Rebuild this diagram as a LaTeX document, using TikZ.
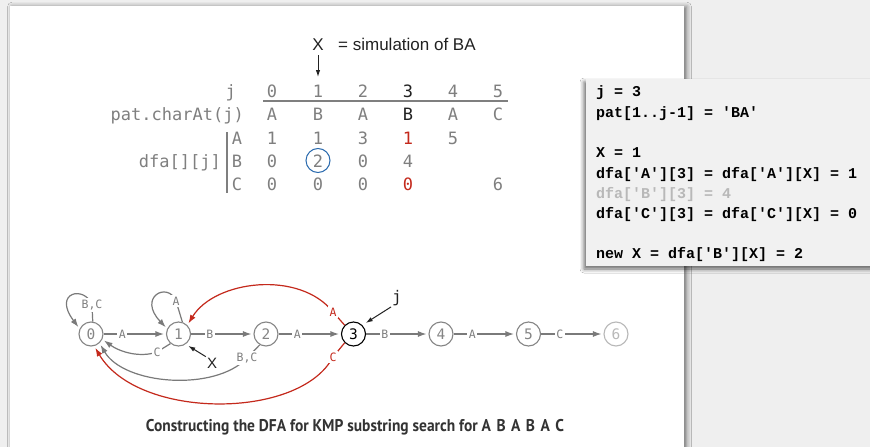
\documentclass[tikz,border=0pt]{standalone}
\usepackage{fontspec}
\usepackage{graphicx}
\usetikzlibrary{arrows.meta,shadows.blur}
\newfontfamily\tblfont{DejaVu Sans Mono}
\newfontfamily\codefont{Liberation Mono}
\newfontfamily\capfont{PT Sans}
\newfontfamily\labfont{Liberation Sans}
\definecolor{deskgray}{HTML}{EFEFEF}
\definecolor{codebg}{HTML}{F1F1F1}
\definecolor{tgray}{HTML}{7F7F7F}
\definecolor{ngray}{HTML}{858585}
\definecolor{lgray}{HTML}{7A7A7A}
\definecolor{pale}{HTML}{B8B8B8}
\definecolor{dark}{HTML}{222222}
\definecolor{kred}{HTML}{C4291C}
\definecolor{kblue}{HTML}{2A6AAE}
\definecolor{capc}{HTML}{333333}
\tikzset{
  tbl/.style={font=\tblfont\fontsize{17}{17}\selectfont, text=tgray, inner sep=0pt, anchor=base},
  tblr/.style={tbl, anchor=base east},
  codeln/.style={font=\codefont\bfseries\fontsize{15}{15}\selectfont, text=black, anchor=base west, inner sep=0pt},
  st/.style={circle, draw=ngray, line width=1.1pt, minimum size=24pt, inner sep=0pt,
    font=\tblfont\fontsize{14.5}{14.5}\selectfont, text=ngray},
  elab/.style={font=\tblfont\fontsize{11.5}{11.5}\selectfont, text=tgray, fill=white, inner sep=1.6pt},
  rlab/.style={elab, text=kred},
  tr/.style={draw=lgray, line width=1.2pt, -{Latex[length=8.5pt,width=6pt]}, shorten >=2pt},
  trr/.style={tr, draw=kred},
  ptr/.style={draw=dark, line width=1pt, -{Latex[length=7pt,width=4.5pt]}},
}
\begin{document}
\begin{tikzpicture}[x=1pt,y=-1pt]
\useasboundingbox (0,0) rectangle (870,447);
% desk and page
\fill[deskgray] (0,0) rectangle (870,447);
\fill[white, blur shadow={shadow xshift=2.5pt, shadow yshift=-1pt, shadow blur radius=5pt, shadow opacity=55}]
  (10,6) rectangle (684,470);

% header: X = simulation of BA
\node[font=\labfont\fontsize{17}{17}\selectfont, text=dark, inner sep=0pt, anchor=base] (hx) at (318,50) {X};
\node[font=\labfont\fontsize{17}{17}\selectfont, text=dark, inner sep=0pt, anchor=base west] (hsim) at (338,50) {= simulation of BA};
\coordinate (hxa) at (318,77);
\draw[ptr] (hx.south) ++(0,5) -- (hxa);

% table
\node[tblr] (tj) at (236,97) {j};
\node[tblr] (tpat) at (244,120) {pat.charAt(j)};
\node[tblr] (tdfa) at (221,167) {dfa[][j]};
\draw[draw=tgray, line width=1.2pt] (263,101) -- (508,101);
\draw[draw=tgray, line width=1.2pt] (227,132) -- (227,193);
\node[tbl] (ra) at (237,144) {A};
\node[tbl] (rb) at (237,167) {B};
\node[tbl] (rc) at (237,190) {C};

\node[tbl] (j0) at (272,97) {0};
\node[tbl] (j1) at (318,97) {1};
\node[tbl] (j2) at (363,97) {2};
\node[tbl, text=dark] (j3) at (408,97) {3};
\node[tbl] (j4) at (453,97) {4};
\node[tbl] (j5) at (498,97) {5};

\node[tbl] (p0) at (272,120) {A};
\node[tbl] (p1) at (318,120) {B};
\node[tbl] (p2) at (363,120) {A};
\node[tbl, text=dark] (p3) at (408,120) {B};
\node[tbl] (p4) at (453,120) {A};
\node[tbl] (p5) at (498,120) {C};

\node[tbl] (a0) at (272,144) {1};
\node[tbl] (a1) at (318,144) {1};
\node[tbl] (a2) at (363,144) {3};
\node[tbl, text=kred] (a3) at (408,144) {1};
\node[tbl] (a4) at (453,144) {5};

\node[tbl] (b0) at (272,167) {0};
\node[tbl] (b1) at (318,167) {2};
\node[tbl] (b2) at (363,167) {0};
\node[tbl] (b3) at (408,167) {4};

\node[tbl] (c0) at (272,190) {0};
\node[tbl] (c1) at (318,190) {0};
\node[tbl] (c2) at (363,190) {0};
\node[tbl, text=kred] (c3) at (408,190) {0};
\node[tbl] (c5) at (498,190) {6};

\node[circle, draw=kblue, line width=1pt, minimum size=24pt, inner sep=0pt] (ring) at (318,160.5) {};

% code panel
\fill[codebg, blur shadow={shadow xshift=-2pt, shadow yshift=-3pt, shadow blur radius=4pt, shadow opacity=60}]
  (586,79) rectangle (890,266);
\node[codeln] (k1) at (596,96) {j = 3};
\node[codeln] (k2) at (596,117) {pat[1..j-1] = 'BA'};
\node[codeln] (k3) at (596,157) {X = 1};
\node[codeln] (k4) at (596,178) {dfa['A'][3] = dfa['A'][X] = 1};
\node[codeln, text=pale] (k5) at (596,198) {dfa['B'][3] = 4};
\node[codeln] (k6) at (596,218) {dfa['C'][3] = dfa['C'][X] = 0};
\node[codeln] (k7) at (596,258) {new X = dfa['B'][X] = 2};

% DFA states
\node[st] (s0) at (91,334) {0};
\node[st] (s1) at (178.5,334) {1};
\node[st] (s2) at (266,334) {2};
\node[st, draw=black, text=black] (s3) at (353.5,334) {3};
\node[st] (s4) at (441,334) {4};
\node[st] (s5) at (528.5,334) {5};
\node[st, draw=pale, text=pale] (s6) at (616,334) {6};

% forward transitions
\draw[tr] (s0) -- (s1) node[elab, pos=0.3] (l01) {A};
\draw[tr] (s1) -- (s2) node[elab, pos=0.3] (l12) {B};
\draw[tr] (s2) -- (s3) node[elab, pos=0.3] (l23) {A};
\draw[tr] (s3) -- (s4) node[elab, pos=0.3] (l34) {B};
\draw[tr] (s4) -- (s5) node[elab, pos=0.3] (l45) {A};
\draw[tr] (s5) -- (s6) node[elab, pos=0.3] (l56) {C};

% self loops
\coordinate (k00) at (92,305);
\draw[tr] (s0.82) -- (k00) .. controls (85,285) and (52,292) .. (s0.155);
\node[elab] (l00) at (k00) {B,C};
\coordinate (k11) at (176,301);
\draw[tr] (s1.72) -- (k11) .. controls (168,281) and (137,297) .. (s1.155);
\node[elab] (l11) at (k11) {A};

% back transitions
\coordinate (k10) at (157,352);
\draw[tr] (s1.-130) -- (k10) .. controls (140,358) and (120,352) .. (s0.-25);
\node[elab] (l10) at (k10) {C};
\coordinate (k20) at (247,358);
\draw[tr] (s2.-120) -- (k20) .. controls (215,392) and (124,385) .. (s0.-47);
\node[elab] (l20) at (k20) {B,C};
\coordinate (k31) at (333,312);
\draw[trr] (s3.135) -- (k31) .. controls (300,270) and (215,280) .. (s1.45);
\node[rlab] (l31) at (k31) {A};
\coordinate (k30) at (333,357);
\draw[trr] (s3.-135) -- (k30) .. controls (300,420) and (138,420) .. (s0.-75);
\node[rlab] (l30) at (k30) {C};

% pointers
\node[font=\labfont\fontsize{15}{15}\selectfont, text=dark, inner sep=1pt] (xp) at (212,363) {X};
\draw[ptr, shorten >=3pt] (xp.north west) -- (s1.-55);
\node[font=\tblfont\fontsize{16}{16}\selectfont, text=dark, inner sep=1pt] (jp) at (397,298) {j};
\draw[ptr, shorten >=4pt] (jp.south west) -- (s3.45);

% caption
\node[font=\capfont\bfseries\fontsize{17}{17}\selectfont, text=capc, inner sep=0pt, anchor=base] (cap) at (355,431)
  {\scalebox{0.91}[1]{Constructing the DFA for KMP substring search for A\hspace{6pt}B\hspace{6pt}A\hspace{6pt}B\hspace{6pt}A\hspace{6pt}C}};
\end{tikzpicture}
\end{document}
